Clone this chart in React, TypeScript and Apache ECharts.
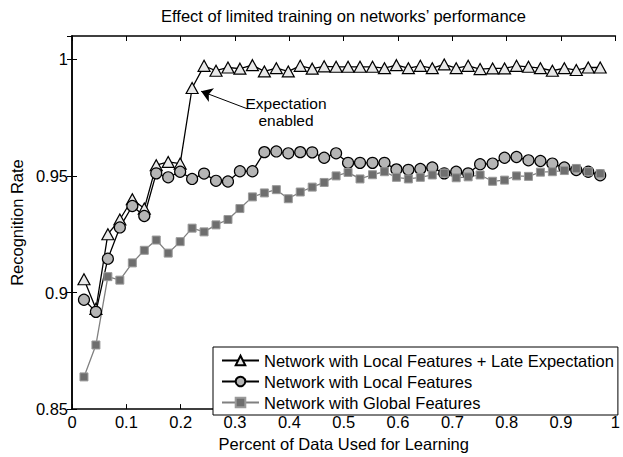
import React, { useEffect, useRef } from "react";
import * as echarts from "echarts";

const titleText = "Effect of limited training on networks’ performance";
const xAxisTitle = "Percent of Data Used for Learning";
const yAxisTitle = "Recognition Rate";
const seriesNames = [
  "Network with Local Features + Late Expectation",
  "Network with Local Features",
  "Network with Global Features",
];

const xValues = [
  0.022, 0.044, 0.066, 0.088, 0.111, 0.133, 0.155, 0.177, 0.199, 0.221, 0.243,
  0.265, 0.287, 0.309, 0.332, 0.354, 0.376, 0.398, 0.42, 0.442, 0.464, 0.486,
  0.508, 0.53, 0.553, 0.575, 0.597, 0.619, 0.641, 0.663, 0.685, 0.707, 0.729,
  0.751, 0.774, 0.796, 0.818, 0.84, 0.862, 0.884, 0.906, 0.928, 0.95, 0.972,
];

const lateExpectation = [
  0.9057, 0.893, 0.925, 0.9313, 0.94, 0.936, 0.9546, 0.956, 0.9553, 0.9877,
  0.9972, 0.9951, 0.9965, 0.996, 0.9975, 0.9948, 0.9962, 0.9948, 0.9972, 0.996,
  0.997, 0.9968, 0.9968, 0.9968, 0.9968, 0.9962, 0.9975, 0.9962, 0.9972, 0.9962,
  0.9978, 0.9962, 0.9972, 0.9958, 0.9961, 0.9961, 0.9972, 0.9968, 0.9962, 0.9951,
  0.9962, 0.9954, 0.9965, 0.9965,
];

const localFeatures = [
  0.8969, 0.8917, 0.9145, 0.9279, 0.9371, 0.9328, 0.9511, 0.9494, 0.9518, 0.9487,
  0.951, 0.9479, 0.9476, 0.952, 0.952, 0.9602, 0.9605, 0.9597, 0.9602, 0.9601,
  0.9578, 0.9597, 0.9556, 0.9556, 0.9556, 0.9556, 0.9528, 0.9526, 0.953, 0.9536,
  0.9511, 0.9518, 0.9511, 0.955, 0.9553, 0.9578, 0.9581, 0.9567, 0.9564, 0.9553,
  0.9536, 0.9525, 0.9518, 0.9503,
];

const globalFeatures = [
  0.8638, 0.8775, 0.9068, 0.9053, 0.9127, 0.9181, 0.9225, 0.9169, 0.9218, 0.9276,
  0.926, 0.929, 0.9313, 0.936, 0.941, 0.9427, 0.9441, 0.9402, 0.9431, 0.9452,
  0.9472, 0.95, 0.9515, 0.9487, 0.9505, 0.9518, 0.9494, 0.9487, 0.9494, 0.9504,
  0.9512, 0.9492, 0.9496, 0.9504, 0.9477, 0.9482, 0.95, 0.9498, 0.9516, 0.9518,
  0.9523, 0.9532, 0.9518, 0.951,
];

// annotation arrow (data coordinates): from text to the "expectation enabled" point
const arrowStart = [0.3225, 0.9788];
const arrowEnd = [0.2376, 0.9863];
const annotationText = "Expectation\nenabled";

const FONT = "'Liberation Sans', Arial, Helvetica, sans-serif";
const FS = 16.5;

function pairs(ys: number[]) {
  return xValues.map((x, i) => [x, ys[i]]);
}

function fmt(v: number) {
  return String(Math.round(v * 1000) / 1000);
}

export default function App() {
  const ref = useRef<HTMLDivElement>(null);
  useEffect(() => {
    if (!ref.current) return;
    const chart = echarts.init(ref.current, null, { renderer: "svg" });
    const axisLine = { show: true, lineStyle: { color: "#000", width: 1.5 } };
    const tick = { show: true, inside: true, length: 5, lineStyle: { color: "#000", width: 1 } };
    chart.setOption({
      animation: false,
      backgroundColor: "#fff",
      textStyle: { fontFamily: FONT },
      title: {
        text: titleText,
        left: 161,
        top: 7,
        padding: 0,
        textStyle: { fontFamily: FONT, fontSize: FS, fontWeight: "normal", color: "#000" },
      },
      grid: { left: 66, right: 1.5, top: 36, bottom: 40, containLabel: false },
      legend: {
        orient: "vertical",
        left: 213,
        top: 347,
        padding: [5, 4, 4, 8],
        itemGap: 4,
        itemWidth: 37,
        itemHeight: 12,
        backgroundColor: "#fff",
        borderColor: "#000",
        borderWidth: 1,
        textStyle: { fontFamily: FONT, fontSize: FS, color: "#000" },
        data: seriesNames,
      },
      xAxis: [
        {
          type: "value",
          min: 0,
          max: 1,
          interval: 0.1,
          position: "bottom",
          axisLine,
          axisTick: tick,
          splitLine: { show: false },
          axisLabel: { fontFamily: FONT, fontSize: FS, color: "#000", margin: 4, formatter: fmt },
          name: xAxisTitle,
          nameLocation: "middle",
          nameGap: 25,
          nameTextStyle: { fontFamily: FONT, fontSize: FS, color: "#000" },
        },
        {
          type: "value",
          min: 0,
          max: 1,
          interval: 0.1,
          position: "top",
          axisLine,
          axisTick: tick,
          splitLine: { show: false },
          axisLabel: { show: false },
        },
      ],
      yAxis: [
        {
          type: "value",
          min: 0.85,
          max: 1.01,
          interval: 0.05,
          position: "left",
          axisLine,
          axisTick: tick,
          splitLine: { show: false },
          axisLabel: {
            fontFamily: FONT,
            fontSize: FS,
            color: "#000",
            margin: 4,
            showMaxLabel: false,
            formatter: fmt,
          },
          name: yAxisTitle,
          nameLocation: "middle",
          nameGap: 39,
          nameTextStyle: { fontFamily: FONT, fontSize: FS, color: "#000" },
        },
        {
          type: "value",
          min: 0.85,
          max: 1.01,
          interval: 0.05,
          position: "right",
          axisLine,
          axisTick: tick,
          splitLine: { show: false },
          axisLabel: { show: false },
        },
      ],
      series: [
        {
          name: seriesNames[0],
          type: "line",
          data: pairs(lateExpectation),
          symbol: "triangle",
          symbolSize: [12, 11],
          showAllSymbol: true,
          itemStyle: { color: "#e8e8e8", borderColor: "#000", borderWidth: 1.2 },
          lineStyle: { color: "#000", width: 1.3 },
          markLine: {
            silent: true,
            symbol: ["none", "arrow"],
            symbolSize: 11,
            label: { show: false },
            lineStyle: { color: "#000", width: 1, type: "solid" },
            data: [[{ coord: arrowStart }, { coord: arrowEnd }]],
          },
        },
        {
          name: seriesNames[1],
          type: "line",
          data: pairs(localFeatures),
          symbol: "circle",
          symbolSize: 11,
          showAllSymbol: true,
          itemStyle: { color: "#b5b5b5", borderColor: "#000", borderWidth: 1.2 },
          lineStyle: { color: "#000", width: 1.3 },
        },
        {
          name: seriesNames[2],
          type: "line",
          data: pairs(globalFeatures),
          symbol: "rect",
          symbolSize: 8,
          showAllSymbol: true,
          itemStyle: { color: "#6e6e6e", borderColor: "#9a9a9a", borderWidth: 1 },
          lineStyle: { color: "#808080", width: 1.3 },
        },
      ],
      graphic: [
        {
          type: "text",
          x: 286,
          y: 95,
          style: {
            text: annotationText,
            fontFamily: FONT,
            fontSize: 15.5,
            fill: "#000",
            align: "center",
            verticalAlign: "top",
            lineHeight: 17,
          },
        },
      ],
    });
    return () => chart.dispose();
  }, []);
  return (
    <div
      ref={ref}
      style={{ position: "absolute", left: 0, top: 0, width: 623, height: 457 }}
    />
  );
}
